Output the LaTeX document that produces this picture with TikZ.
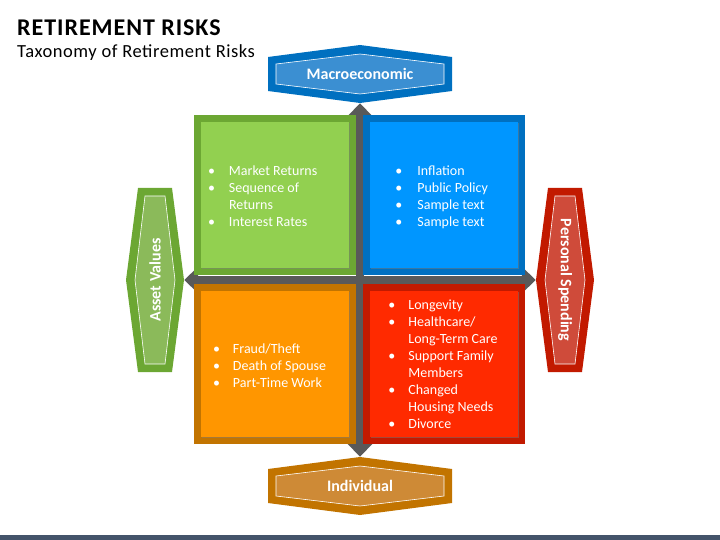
\documentclass[tikz,border=0pt]{standalone}
\usepackage{fontspec}
\setmainfont{Carlito}
\usetikzlibrary{positioning}
\usetikzlibrary{shadows}
\usetikzlibrary{backgrounds}
\usetikzlibrary{arrows.meta}

\definecolor{greenD}{HTML}{6CA733}
\definecolor{greenL}{HTML}{92D050}
\definecolor{greenH}{HTML}{8BBA5A}
\definecolor{blueD}{HTML}{0070C0}
\definecolor{blueL}{HTML}{0096FF}
\definecolor{blueH}{HTML}{3B8FD2}
\definecolor{orangeD}{HTML}{C27400}
\definecolor{orangeL}{HTML}{FF9600}
\definecolor{orangeH}{HTML}{CE8A36}
\definecolor{redD}{HTML}{C21A00}
\definecolor{redL}{HTML}{FF2A00}
\definecolor{redH}{HTML}{CF4B3A}
\definecolor{barG}{HTML}{595959}
\definecolor{stripB}{HTML}{44546A}

\begin{document}
\begin{tikzpicture}[x=1pt,y=-1pt,
		outer box/.style={minimum width=162pt,minimum height=160pt,inner sep=0pt},
		inner box/.style={minimum width=148pt,minimum height=146pt,inner sep=0pt,
			drop shadow={shadow xshift=1pt,shadow yshift=-1pt,opacity=0.45}},
		risk list/.style={anchor=west,text=white,inner sep=0pt,font=\fontsize{14}{17}\selectfont},
		hex node/.style={minimum width=185pt,minimum height=58pt,inner sep=0pt,
			text=white,font=\fontsize{16}{19}\selectfont\bfseries},
		side hex/.style={hex node,minimum width=58pt,minimum height=185pt},
		cross/.style={draw=barG,line width=8pt,
			{Triangle[width=26pt,length=14pt]}-{Triangle[width=26pt,length=14pt]}}]
		
		\useasboundingbox (0,0) rectangle (720,540);
		\fill[stripB] (0,535) rectangle (720,540);
		
		% titles
		\node[anchor=base west,inner sep=0pt,font=\fontsize{24}{28}\selectfont\bfseries\addfontfeatures{LetterSpace=4}] (title) at (17,36) {RETIREMENT RISKS};
		\node[anchor=base west,inner sep=0pt,font=\fontsize{18.5}{22}\selectfont\addfontfeatures{LetterSpace=3}] (subtitle) at (17,57.3) {Taxonomy of Retirement Risks};
		
		% the four hexagons
		\node[hex node] (macro) at (360,74) {Macroeconomic};
		\node[hex node] (indiv) at (360,486) {Individual};
		\node[side hex] (asset) at (155,280) {\rotatebox{90}{Asset Values}};
		\node[side hex] (spend) at (565,280) {\rotatebox{-90}{Personal Spending}};
		
		\begin{scope}[on background layer]
			\foreach \n/\r/\dk/\lt in {macro/0/blueD/blueH, indiv/0/orangeD/orangeH,
				asset/90/greenD/greenH, spend/90/redD/redH}{
				\begin{scope}[shift={(\n.center)},rotate=\r]
					\fill[\dk] (-92,-17) -- (0,-29) -- (92,-17) -- (92,17) -- (0,29) -- (-92,17) -- cycle;
					\filldraw[fill=\lt,draw=white,line width=0.6pt] (-84,-10) -- (0,-20) -- (84,-10)
					-- (84,10) -- (0,20) -- (-84,10) -- cycle;
				\end{scope}}
		\end{scope}
		
		% the cross
		\draw[cross] (macro.south) -- (indiv.north);
		\draw[cross] (asset.east) -- (spend.west);
		
		% quadrants
		\node[outer box,fill=greenD] (assetbox) at (275,195) {};
		\node[outer box,fill=blueD] (macrobox) [right=7pt of assetbox] {};
		\node[outer box,fill=orangeD] (indivbox) [below=9pt of assetbox] {};
		\node[outer box,fill=redD] (spendbox) [right=7pt of indivbox] {};
		
		\node[inner box,fill=greenL] (assetin) at (assetbox) {};
		\node[inner box,fill=blueL] (macroin) at (macrobox) {};
		\node[inner box,fill=orangeL] (indivin) at (indivbox) {};
		\node[inner box,fill=redL] (spendin) at (spendbox) {};
		
		\node[risk list] (assetlist) at ([xshift=14pt,yshift=-2.5pt]assetbox.west) {\begin{tabular}{@{}p{21pt}@{}l@{}}
				\textbullet & Market Returns\\
				\textbullet & Sequence of\\
				& Returns\\
				\textbullet & Interest Rates
			\end{tabular}};
		\node[risk list] (macrolist) at ([xshift=32pt,yshift=-2.5pt]macrobox.west) {\begin{tabular}{@{}p{22pt}@{}l@{}}
				\textbullet & Inflation\\
				\textbullet & Public Policy\\
				\textbullet & Sample text\\
				\textbullet & Sample text
			\end{tabular}};
		\node[risk list] (indivlist) at ([xshift=19pt,yshift=-2.5pt]indivbox.west) {\begin{tabular}{@{}p{20pt}@{}l@{}}
				\textbullet & Fraud/Theft\\
				\textbullet & Death of Spouse\\
				\textbullet & Part-Time Work
			\end{tabular}};
		\node[risk list] (spendlist) at ([xshift=25pt,yshift=-1.5pt]spendbox.west) {\begin{tabular}{@{}p{20pt}@{}l@{}}
				\textbullet & Longevity\\
				\textbullet & Healthcare/\\
				& Long-Term Care\\
				\textbullet & Support Family\\
				& Members\\
				\textbullet & Changed\\
				& Housing Needs\\
				\textbullet & Divorce
			\end{tabular}};
\end{tikzpicture}
\end{document}
